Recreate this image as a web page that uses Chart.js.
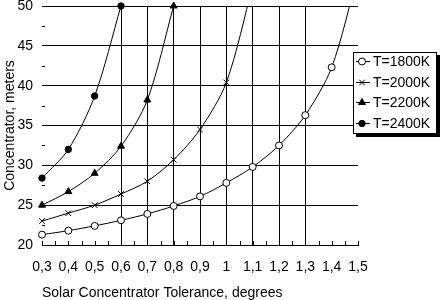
<!DOCTYPE html>
<html>
<head>
<meta charset="utf-8">
<script src="https://cdn.jsdelivr.net/npm/chart.js@4.4.0/dist/chart.umd.min.js"></script>
<style>
  html, body { margin: 0; padding: 0; background: #fff; }
  #wrap { width: 441px; height: 300px; }
</style>
</head>
<body>
<div id="wrap"><canvas id="chart"></canvas></div>
<script>
/* ── DATA ── */
const tolerance = ['0,3','0,4','0,5','0,6','0,7','0,8','0,9','1','1,1','1,2','1,3','1,4','1,5'];
const t1800 = [21.3, 21.8, 22.4, 23.1, 23.9, 24.9, 26.1, 27.8, 29.8, 32.5, 36.3, 42.3, 54];
const t2000 = [23.0, 24.0, 25.0, 26.4, 28.0, 30.7, 34.5, 40.4, 52.5];
const t2200 = [25.0, 26.7, 29.0, 32.4, 38.2, 50.0];
const t2400 = [28.4, 32.0, 38.7, 50.0];
const seriesNames = ['T=1800K', 'T=2000K', 'T=2200K', 'T=2400K'];
const yTicks = [20, 25, 30, 35, 40, 45, 50];

const FONT = "'Liberation Sans', Arial, sans-serif";
Chart.defaults.font.family = FONT;
Chart.defaults.color = '#000';

const clipTop = { left: 5, top: 0, right: 5, bottom: 5 };
const clipOpen = { left: 5, top: 6, right: 5, bottom: 5 };

function ds(label, data, style, fill, r, clip) {
  return {
    label, data,
    borderColor: '#000', borderWidth: 1, tension: 0.3,
    pointStyle: style, pointRadius: r, pointBorderWidth: 1,
    pointBorderColor: '#000', pointBackgroundColor: fill,
    clip
  };
}

/* ── DECOR: minor ticks + boxed legend ── */
const decor = {
  id: 'decor',
  beforeDatasetsDraw(chart) {
    const { ctx, scales: { x, y } } = chart;
    ctx.save();
    ctx.strokeStyle = '#000';
    ctx.lineWidth = 1;
    ctx.beginPath();
    for (let i = 0; i < tolerance.length; i++) {
      const px = Math.round(x.getPixelForValue(i)) + 0.5;
      ctx.moveTo(px, y.bottom); ctx.lineTo(px, y.bottom - 4);
      if (i < tolerance.length - 1) {
        const mid = Math.round((x.getPixelForValue(i) + x.getPixelForValue(i + 1)) / 2) + 0.5;
        ctx.moveTo(mid, y.bottom); ctx.lineTo(mid, y.bottom - 4);
      }
    }
    for (let i = 0; i < yTicks.length - 1; i++) {
      const py = Math.round(y.getPixelForValue((yTicks[i] + yTicks[i + 1]) / 2)) + 0.5;
      ctx.moveTo(x.left, py); ctx.lineTo(x.left + 3, py);
    }
    ctx.stroke();
    ctx.restore();
  },
  afterDraw(chart) {
    const { ctx } = chart;
    const bx = 353, by = 52, bw = 84, bh = 82;
    ctx.save();
    ctx.fillStyle = '#000';
    ctx.fillRect(bx + 3, by + 3, bw, bh);
    ctx.fillStyle = '#fff';
    ctx.fillRect(bx, by, bw, bh);
    ctx.strokeStyle = '#000';
    ctx.lineWidth = 1;
    ctx.strokeRect(bx + 0.5, by + 0.5, bw - 1, bh - 1);
    ctx.font = '14px ' + FONT;
    ctx.textBaseline = 'middle';
    chart.data.datasets.forEach((d, i) => {
      const cy = 61 + i * 20.7;
      ctx.beginPath();
      ctx.moveTo(356, Math.round(cy) + 0.5);
      ctx.lineTo(370, Math.round(cy) + 0.5);
      ctx.strokeStyle = '#000';
      ctx.lineWidth = 1;
      ctx.stroke();
      ctx.fillStyle = d.pointBackgroundColor;
      ctx.strokeStyle = '#000';
      Chart.helpers.drawPoint(ctx, { pointStyle: d.pointStyle, radius: d.pointRadius, borderWidth: 1 }, 362, Math.round(cy) + 0.5);
      ctx.fillStyle = '#000';
      ctx.fillText(d.label, 373, cy + 1);
    });
    ctx.restore();
  }
};

new Chart(document.getElementById('chart'), {
  type: 'line',
  data: {
    labels: tolerance,
    datasets: [
      ds(seriesNames[0], t1800, 'circle', '#fff', 3.5, clipTop),
      ds(seriesNames[1], t2000, 'crossRot', '#000', 4, clipTop),
      ds(seriesNames[2], t2200, 'triangle', '#000', 4, clipOpen),
      ds(seriesNames[3], t2400, 'circle', '#000', 3.2, clipOpen)
    ]
  },
  options: {
    responsive: true,
    maintainAspectRatio: false,
    animation: false,
    layout: { padding: { top: 6, right: 83, left: 0, bottom: 0 } },
    plugins: { legend: { display: false }, tooltip: { enabled: false } },
    scales: {
      x: {
        offset: false,
        grid: {
          color: c => (c.index >= 3 && c.index <= 10) ? '#000' : 'rgba(0,0,0,0)',
          drawTicks: false, lineWidth: 1
        },
        border: { display: true, color: '#000', width: 1 },
        ticks: { padding: 14, font: { size: 14 }, maxRotation: 0, autoSkip: false },
        title: {
          display: true, text: 'Solar Concentrator Tolerance, degrees', align: 'start',
          font: { size: 14, lineHeight: 1 }, padding: { top: 0, bottom: 0 }
        },
        afterFit(s) { s.height = 55; s.paddingLeft = 0; s.paddingRight = 0; }
      },
      y: {
        min: yTicks[0], max: yTicks[yTicks.length - 1],
        ticks: { stepSize: 5, padding: 9, font: { size: 14 } },
        grid: {
          color: c => c.tick.value === yTicks[0] ? 'rgba(0,0,0,0)' : '#000',
          drawTicks: false, lineWidth: 1
        },
        border: { display: false },
        title: {
          display: true, text: 'Concentrator, meters',
          font: { size: 14, lineHeight: 1 }, padding: { top: 3, bottom: 0 }
        },
        afterFit(s) { s.width = 42; s.paddingTop = 0; s.paddingBottom = 0; }
      }
    }
  },
  plugins: [decor]
});
</script>
</body>
</html>
